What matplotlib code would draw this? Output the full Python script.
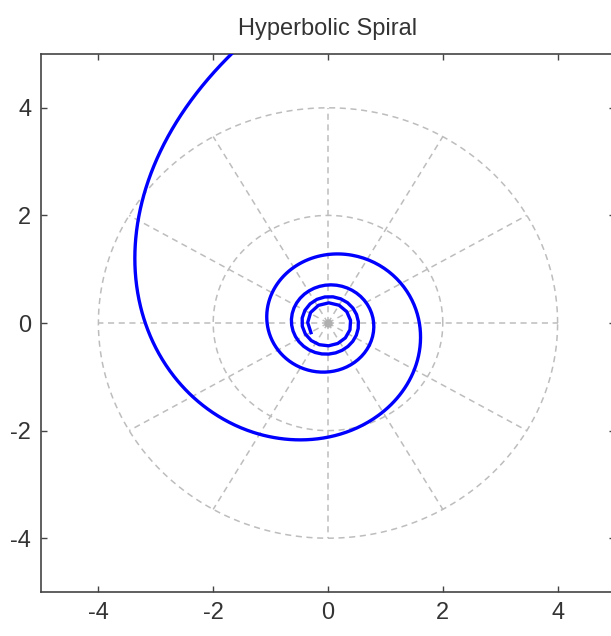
import numpy as np
import matplotlib
matplotlib.use("Agg")
import matplotlib.pyplot as plt

# Hyperbolic spiral r = a / theta, sampled evenly in radius
spiral_a = 10.0
r_outer = 10.0
r_inner = 0.34
r_step = 0.007

grid_radii = [2, 4]
spoke_angles_deg = [0, 30, 60, 90, 120, 150, 180, 210, 240, 270, 300, 330]
ticks = [-4, -2, 0, 2, 4]
tick_labels = ["-4", "-2", "0", "2", "4"]
title = "Hyperbolic Spiral"

plt.rcParams['font.family'] = ['Liberation Sans', 'DejaVu Sans']

fig = plt.figure(figsize=(6.11, 6.36), dpi=100)
ax = fig.add_axes([41/611, 1 - 592/636, 574/611, 538/636])

grid_col = '#bdbdbd'
dash = (0, (4, 3))
phi = np.linspace(0, 2*np.pi, 400)
for rr in grid_radii:
    ax.plot(rr*np.cos(phi), rr*np.sin(phi), color=grid_col, lw=1.1, ls=dash, zorder=1)
rmax = max(grid_radii)
for d in spoke_angles_deg:
    t = np.deg2rad(d)
    ax.plot([0, rmax*np.cos(t)], [0, rmax*np.sin(t)], color=grid_col, lw=1.1, ls=dash, zorder=1)
ax.plot([0], [0], 'o', color='#b0b0b0', ms=5, zorder=1)

r = np.arange(r_outer, r_inner, -r_step)
theta = spiral_a / r
ax.plot(r*np.cos(theta), r*np.sin(theta), color='#0000ff', lw=2.4, zorder=3)

ax.set_xlim(-5, 5)
ax.set_ylim(-5, 5)
ax.set_xticks(ticks)
ax.set_yticks(ticks)
ax.set_xticklabels(tick_labels)
ax.set_yticklabels(tick_labels)
txt_col = '#333333'
ax.tick_params(direction='in', length=4, width=1, top=True, right=True,
               labelsize=17, pad=7, colors='#444444', labelcolor=txt_col)
for s in ax.spines.values():
    s.set_linewidth(1.2)
    s.set_color('#444444')
ax.set_title(title, fontsize=17, pad=14, color=txt_col)

fig.savefig('out.png', dpi=100)
